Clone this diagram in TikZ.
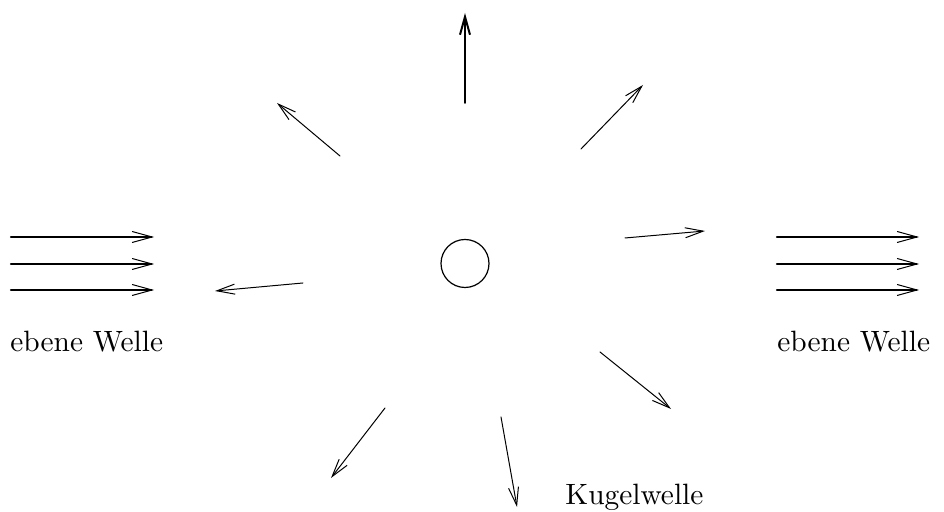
\documentclass[tikz,border=0pt]{standalone}
\usepackage{tikz}
\usepackage{graphicx}
\usetikzlibrary{arrows.meta}

\newcommand{\lbltext}[1]{\scalebox{1.47}{\fontsize{10}{12}\selectfont #1}}

\begin{document}
\begin{tikzpicture}[x=0.5pt,y=0.5pt,line cap=round,
    planewave/.style={line width=1.1pt,-{Straight Barb[length=10pt,width=5.5pt,line width=0.5pt]}},
    ray/.style={line width=0.5pt,-{Straight Barb[length=9pt,width=5pt]}},
    lbl/.style={anchor=base west,inner sep=0pt}]
  \useasboundingbox (0,0) rectangle (944,512);
  % incoming and outgoing plane wave
  \foreach \y [count=\i] in {275,248,222} {
    \draw[planewave] (11,\y) coordinate (in\i) -- (154,\y) coordinate (ina\i);
    \draw[planewave] (777,\y) coordinate (out\i) -- (919,\y) coordinate (outa\i);
  }
  \node[lbl] (inlabel) at (10,160) {\lbltext{ebene Welle}};
  \node[lbl] (outlabel) at (777,160) {\lbltext{ebene Welle}};
  % scatterer
  \node[draw,circle,line width=0.6pt,minimum size=48pt*0.5,inner sep=0pt] (scat) at (465,248.5) {};
  % spherical wave
  \draw[ray,line width=1pt] (465,409) coordinate (up0) -- (465,499) coordinate (up1);
  \foreach \n/\a/\b in {ul/{340,356}/{277,409}, ur/{581,363}/{643,427},
      r/{625,274}/{705,281}, l/{303,229}/{215,221}, lr/{600,160}/{671,103},
      lo/{501,95}/{517,5}, ll/{385,104}/{331,34}}
    \draw[ray] (\a) coordinate (\n0) -- (\b) coordinate (\n1);
  \node[lbl] (sphlabel) at (565,7) {\lbltext{Kugelwelle}};
\end{tikzpicture}
\end{document}
